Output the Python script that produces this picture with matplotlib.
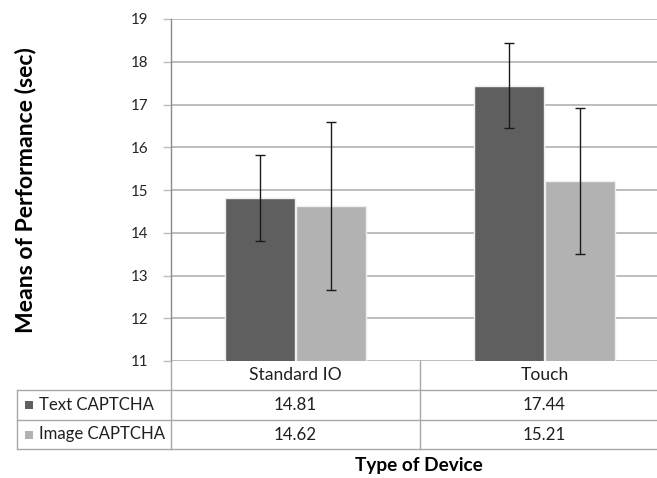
import matplotlib
matplotlib.use("Agg")
import matplotlib.pyplot as plt
from matplotlib.lines import Line2D
from matplotlib.patches import Rectangle
from matplotlib.transforms import blended_transform_factory
import numpy as np

plt.rcParams['font.family'] = ['Lato', 'DejaVu Sans']

# Data
devices = ["Standard IO", "Touch"]
series_names = ["Text CAPTCHA", "Image CAPTCHA"]
text_means = [14.81, 17.44]
image_means = [14.62, 15.21]
text_err = [1.00, 1.00]
image_err = [1.97, 1.70]
y_ticks = [11, 12, 13, 14, 15, 16, 17, 18, 19]

colors = ["#5f5f5f", "#b2b2b2"]
grid_color = "#bdbdbd"
line_color = "#a8a8a8"
text_color = "#1f1f1f"

W, H = 657, 478
fig = plt.figure(figsize=(W / 100, H / 100), dpi=100)
fig.patch.set_facecolor("white")
renderer = fig.canvas.get_renderer()


def fx(px):
    return px / W


def fy(py):
    return 1 - py / H


def fitted_size(s, width_px, weight="normal", base=12.0):
    """Font size at which string s is width_px wide."""
    t = fig.text(0, 0, s, fontsize=base, fontweight=weight)
    w = t.get_window_extent(renderer).width
    t.remove()
    return base * width_px / w


ax = fig.add_axes([fx(171), fy(361), 498 / W, (361 - 19) / H])
ax.set_xlim(-0.5, 1.5)
ax.set_ylim(11, 19)

x = np.arange(len(devices))
bw = 0.28
off = 0.142
ax.bar(x - off, text_means, bw, color=colors[0], edgecolor="#efefef",
       linewidth=1.0, zorder=3)
ax.bar(x + off, image_means, bw, color=colors[1], edgecolor="#efefef",
       linewidth=1.0, zorder=3)
ax.errorbar(x - off, text_means, yerr=text_err, fmt="none", ecolor="#1a1a1a",
            elinewidth=1.0, capsize=3.5, capthick=1.0, zorder=4)
ax.errorbar(x + off, image_means, yerr=image_err, fmt="none", ecolor="#1a1a1a",
            elinewidth=1.0, capsize=3.5, capthick=1.0, zorder=4)

tick_fs = fitted_size("19", 17.5)
ax.set_yticks(y_ticks)
ax.set_xticks([])
ax.yaxis.grid(True, color=grid_color, linewidth=1.4, zorder=0)
ax.set_axisbelow(True)
ax.tick_params(axis="y", length=6, width=1.0, color=grid_color, pad=10,
               labelsize=tick_fs, labelcolor="#262626")
for s in ["top", "right", "bottom"]:
    ax.spines[s].set_visible(False)
ax.spines["left"].set_color("#8a8a8a")
ax.spines["left"].set_linewidth(1.0)

# y axis title
ylab_fs = fitted_size("Means of Performance (sec)", 284, weight="bold")
fig.text(fx(26), fy(190), "Means of Performance (sec)", rotation=90,
         ha="center", va="center", fontsize=ylab_fs, fontweight="bold",
         color="black")

# data table under the axes
bt = blended_transform_factory(ax.transData, fig.transFigure)
rows_y = [361, 390, 420, 449]
for xb in [-0.5, 0.5, 1.5]:
    fig.add_artist(Line2D([xb, xb], [fy(361), fy(449)], transform=bt,
                          color=line_color, linewidth=1.0, clip_on=False))
for ry in rows_y[1:]:
    fig.add_artist(Line2D([fx(17), fx(W + 20)], [fy(ry), fy(ry)],
                          transform=fig.transFigure, color=line_color,
                          linewidth=1.0))
fig.add_artist(Line2D([fx(17), fx(17)], [fy(390), fy(449)],
                      transform=fig.transFigure, color=line_color, linewidth=1.0))

head_fs = fitted_size("Standard IO", 92)
num_fs = fitted_size("14.81", 43)
for i, d in enumerate(devices):
    fig.text(x[i], fy(375.5), d, transform=bt, ha="center", va="center",
             fontsize=head_fs, color=text_color)
    fig.text(x[i], fy(405), f"{text_means[i]:.2f}", transform=bt,
             ha="center", va="center", fontsize=num_fs, color=text_color)
    fig.text(x[i], fy(434.5), f"{image_means[i]:.2f}", transform=bt,
             ha="center", va="center", fontsize=num_fs, color=text_color)

leg_fs = fitted_size("Image CAPTCHA", 126)
for name, col, yy in zip(series_names, colors, [405, 434.5]):
    fig.add_artist(Rectangle((fx(25), fy(yy + 4)), 8 / W, 8 / H,
                             transform=fig.transFigure, facecolor=col,
                             edgecolor="none"))
    fig.text(fx(39), fy(yy), name, ha="left", va="center",
             fontsize=leg_fs, color=text_color)

xlab_fs = fitted_size("Type of Device", 128, weight="bold")
fig.text(fx(419), fy(466), "Type of Device", ha="center", va="center",
         fontsize=xlab_fs, fontweight="bold", color="black")

fig.savefig("out.png", dpi=100)
